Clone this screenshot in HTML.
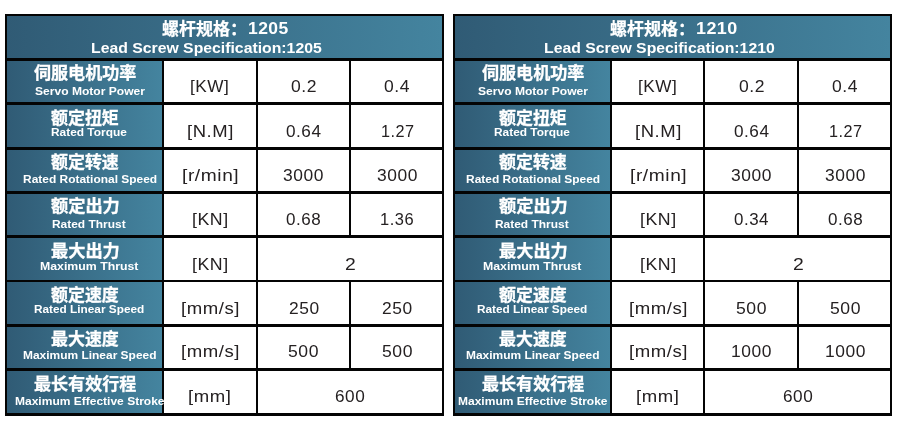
<!DOCTYPE html>
<html lang="zh"><head><meta charset="utf-8"><title>Lead Screw Specification</title>
<style>
html,body{margin:0;padding:0;background:#fff;}
body{width:900px;height:432px;position:relative;overflow:hidden;font-family:"Liberation Sans","Noto Sans CJK SC",sans-serif;}
.t{position:absolute;top:0;left:0;width:448px;height:432px;}
.bg{position:absolute;left:5px;top:14px;width:439.2px;height:401.8px;background:#040404;}
.c{position:absolute;background:#fff;}
.g{position:absolute;background:linear-gradient(90deg,#305b75 0%,#44849f 100%);}
.x{position:absolute;white-space:nowrap;transform-origin:0 0;line-height:1;}
.zh{color:#fff;font-weight:700;font-size:16.9px;font-family:"Liberation Sans","Noto Sans CJK SC",sans-serif;-webkit-text-stroke:0.3px #fff;}
.en{color:#fff;font-weight:700;font-size:11.7px;}
.h1{color:#fff;font-weight:700;font-size:17.2px;font-family:"Liberation Sans","Noto Sans CJK SC",sans-serif;-webkit-text-stroke:0.25px #fff;}
.h1d{color:#fff;font-weight:700;font-size:17px;letter-spacing:.4px;}
.h2{color:#fff;font-weight:700;font-size:15.1px;}
.d{color:#252122;font-size:16.4px;letter-spacing:.5px;}
</style></head><body>
<div class="t" style="left:0px"><div class="bg"></div>
<div class="g" style="left:7.30px;top:16.30px;width:435.00px;height:41.45px"></div>
<div class="g" style="left:7.30px;top:60.70px;width:154.70px;height:41.30px"></div>
<div class="c" style="left:164.00px;top:60.70px;width:91.75px;height:41.30px"></div>
<div class="c" style="left:257.75px;top:60.70px;width:91.35px;height:41.30px"></div>
<div class="c" style="left:351.10px;top:60.70px;width:91.20px;height:41.30px"></div>
<div class="g" style="left:7.30px;top:104.80px;width:154.70px;height:42.10px"></div>
<div class="c" style="left:164.00px;top:104.80px;width:91.75px;height:42.10px"></div>
<div class="c" style="left:257.75px;top:104.80px;width:91.35px;height:42.10px"></div>
<div class="c" style="left:351.10px;top:104.80px;width:91.20px;height:42.10px"></div>
<div class="g" style="left:7.30px;top:149.70px;width:154.70px;height:41.20px"></div>
<div class="c" style="left:164.00px;top:149.70px;width:91.75px;height:41.20px"></div>
<div class="c" style="left:257.75px;top:149.70px;width:91.35px;height:41.20px"></div>
<div class="c" style="left:351.10px;top:149.70px;width:91.20px;height:41.20px"></div>
<div class="g" style="left:7.30px;top:193.70px;width:154.70px;height:41.60px"></div>
<div class="c" style="left:164.00px;top:193.70px;width:91.75px;height:41.60px"></div>
<div class="c" style="left:257.75px;top:193.70px;width:91.35px;height:41.60px"></div>
<div class="c" style="left:351.10px;top:193.70px;width:91.20px;height:41.60px"></div>
<div class="g" style="left:7.30px;top:238.10px;width:154.70px;height:41.45px"></div>
<div class="c" style="left:164.00px;top:238.10px;width:91.75px;height:41.45px"></div>
<div class="c" style="left:257.75px;top:238.10px;width:184.55px;height:41.45px"></div>
<div class="g" style="left:7.30px;top:282.35px;width:154.70px;height:41.35px"></div>
<div class="c" style="left:164.00px;top:282.35px;width:91.75px;height:41.35px"></div>
<div class="c" style="left:257.75px;top:282.35px;width:91.35px;height:41.35px"></div>
<div class="c" style="left:351.10px;top:282.35px;width:91.20px;height:41.35px"></div>
<div class="g" style="left:7.30px;top:326.50px;width:154.70px;height:41.50px"></div>
<div class="c" style="left:164.00px;top:326.50px;width:91.75px;height:41.50px"></div>
<div class="c" style="left:257.75px;top:326.50px;width:91.35px;height:41.50px"></div>
<div class="c" style="left:351.10px;top:326.50px;width:91.20px;height:41.50px"></div>
<div class="g" style="left:7.30px;top:370.80px;width:154.70px;height:42.10px"></div>
<div class="c" style="left:164.00px;top:370.80px;width:91.75px;height:42.10px"></div>
<div class="c" style="left:257.75px;top:370.80px;width:184.55px;height:42.10px"></div>
</div>
<div class="t" style="left:448px"><div class="bg"></div>
<div class="g" style="left:7.30px;top:16.30px;width:435.00px;height:41.45px"></div>
<div class="g" style="left:7.30px;top:60.70px;width:154.55px;height:41.30px"></div>
<div class="c" style="left:163.85px;top:60.70px;width:91.55px;height:41.30px"></div>
<div class="c" style="left:257.40px;top:60.70px;width:91.50px;height:41.30px"></div>
<div class="c" style="left:350.90px;top:60.70px;width:91.40px;height:41.30px"></div>
<div class="g" style="left:7.30px;top:104.80px;width:154.55px;height:42.10px"></div>
<div class="c" style="left:163.85px;top:104.80px;width:91.55px;height:42.10px"></div>
<div class="c" style="left:257.40px;top:104.80px;width:91.50px;height:42.10px"></div>
<div class="c" style="left:350.90px;top:104.80px;width:91.40px;height:42.10px"></div>
<div class="g" style="left:7.30px;top:149.70px;width:154.55px;height:41.20px"></div>
<div class="c" style="left:163.85px;top:149.70px;width:91.55px;height:41.20px"></div>
<div class="c" style="left:257.40px;top:149.70px;width:91.50px;height:41.20px"></div>
<div class="c" style="left:350.90px;top:149.70px;width:91.40px;height:41.20px"></div>
<div class="g" style="left:7.30px;top:193.70px;width:154.55px;height:41.60px"></div>
<div class="c" style="left:163.85px;top:193.70px;width:91.55px;height:41.60px"></div>
<div class="c" style="left:257.40px;top:193.70px;width:91.50px;height:41.60px"></div>
<div class="c" style="left:350.90px;top:193.70px;width:91.40px;height:41.60px"></div>
<div class="g" style="left:7.30px;top:238.10px;width:154.55px;height:41.45px"></div>
<div class="c" style="left:163.85px;top:238.10px;width:91.55px;height:41.45px"></div>
<div class="c" style="left:257.40px;top:238.10px;width:184.90px;height:41.45px"></div>
<div class="g" style="left:7.30px;top:282.35px;width:154.55px;height:41.35px"></div>
<div class="c" style="left:163.85px;top:282.35px;width:91.55px;height:41.35px"></div>
<div class="c" style="left:257.40px;top:282.35px;width:91.50px;height:41.35px"></div>
<div class="c" style="left:350.90px;top:282.35px;width:91.40px;height:41.35px"></div>
<div class="g" style="left:7.30px;top:326.50px;width:154.55px;height:41.50px"></div>
<div class="c" style="left:163.85px;top:326.50px;width:91.55px;height:41.50px"></div>
<div class="c" style="left:257.40px;top:326.50px;width:91.50px;height:41.50px"></div>
<div class="c" style="left:350.90px;top:326.50px;width:91.40px;height:41.50px"></div>
<div class="g" style="left:7.30px;top:370.80px;width:154.55px;height:42.10px"></div>
<div class="c" style="left:163.85px;top:370.80px;width:91.55px;height:42.10px"></div>
<div class="c" style="left:257.40px;top:370.80px;width:184.90px;height:42.10px"></div>
</div>
<div class="x h1" id="t0h1" style="left:162.00px;top:20.75px;transform:scaleX(0.9883)">螺杆规格：</div>
<div class="x h1d" id="t0h1d" style="left:247.96px;top:20.00px;transform:scaleX(1.0292)">1205</div>
<div class="x h2" id="t0h2" style="left:90.98px;top:40.00px;transform:scaleX(1.0457)">Lead Screw Specification:1205</div>
<div class="x d" id="t0r1v0" style="left:291.45px;top:77.60px;transform:scaleX(1.0700)">0.2</div>
<div class="x d" id="t0r1v1" style="left:384.43px;top:77.60px;transform:scaleX(1.0681)">0.4</div>
<div class="x d" id="t0r1u" style="left:190.43px;top:77.60px;transform:scaleX(1.0494)">[KW]</div>
<div class="x zh" id="t0r1zh" style="left:34.01px;top:65.50px;transform:scaleX(1.0093)">伺服电机功率</div>
<div class="x en" id="t0r1en" style="left:34.99px;top:84.80px;transform:scaleX(1.0330)">Servo Motor Power</div>
<div class="x d" id="t0r2v0" style="left:286.46px;top:123.40px;transform:scaleX(1.0477)">0.64</div>
<div class="x d" id="t0r2v1" style="left:380.50px;top:123.40px;transform:scaleX(0.9914)">1.27</div>
<div class="x d" id="t0r2u" style="left:187.42px;top:123.40px;transform:scaleX(1.1259)">[N.M]</div>
<div class="x zh" id="t0r2zh" style="left:51.00px;top:110.50px;transform:scaleX(1.0031)">额定扭矩</div>
<div class="x en" id="t0r2en" style="left:50.96px;top:126.40px;transform:scaleX(1.0179)">Rated Torque</div>
<div class="x d" id="t0r3v0" style="left:283.46px;top:166.60px;transform:scaleX(1.0630)">3000</div>
<div class="x d" id="t0r3v1" style="left:377.45px;top:166.60px;transform:scaleX(1.0630)">3000</div>
<div class="x d" id="t0r3u" style="left:182.39px;top:166.60px;transform:scaleX(1.1682)">[r/min]</div>
<div class="x zh" id="t0r3zh" style="left:51.00px;top:154.50px;transform:scaleX(1.0031)">额定转速</div>
<div class="x en" id="t0r3en" style="left:23.00px;top:173.00px;transform:scaleX(1.0226)">Rated Rotational Speed</div>
<div class="x d" id="t0r4v0" style="left:286.00px;top:210.60px;transform:scaleX(1.0384)">0.68</div>
<div class="x d" id="t0r4v1" style="left:380.47px;top:210.60px;transform:scaleX(1.0045)">1.36</div>
<div class="x d" id="t0r4u" style="left:192.41px;top:210.60px;transform:scaleX(1.0819)">[KN]</div>
<div class="x zh" id="t0r4zh" style="left:50.99px;top:198.50px;transform:scaleX(1.0183)">额定出力</div>
<div class="x en" id="t0r4en" style="left:51.98px;top:217.60px;transform:scaleX(1.0212)">Rated Thrust</div>
<div class="x d" id="t0r5v0" style="left:345.24px;top:255.80px;transform:scaleX(1.1807)">2</div>
<div class="x d" id="t0r5u" style="left:192.41px;top:255.80px;transform:scaleX(1.0819)">[KN]</div>
<div class="x zh" id="t0r5zh" style="left:50.99px;top:243.50px;transform:scaleX(1.0183)">最大出力</div>
<div class="x en" id="t0r5en" style="left:40.00px;top:259.60px;transform:scaleX(1.0520)">Maximum Thrust</div>
<div class="x d" id="t0r6v0" style="left:289.00px;top:299.80px;transform:scaleX(1.0604)">250</div>
<div class="x d" id="t0r6v1" style="left:381.92px;top:299.80px;transform:scaleX(1.0604)">250</div>
<div class="x d" id="t0r6u" style="left:180.87px;top:299.80px;transform:scaleX(1.1324)">[mm/s]</div>
<div class="x zh" id="t0r6zh" style="left:51.00px;top:288.00px;transform:scaleX(1.0031)">额定速度</div>
<div class="x en" id="t0r6en" style="left:33.98px;top:303.00px;transform:scaleX(1.0104)">Rated Linear Speed</div>
<div class="x d" id="t0r7v0" style="left:287.95px;top:343.00px;transform:scaleX(1.0741)">500</div>
<div class="x d" id="t0r7v1" style="left:381.93px;top:343.00px;transform:scaleX(1.0741)">500</div>
<div class="x d" id="t0r7u" style="left:180.87px;top:343.00px;transform:scaleX(1.1324)">[mm/s]</div>
<div class="x zh" id="t0r7zh" style="left:51.00px;top:331.50px;transform:scaleX(1.0031)">最大速度</div>
<div class="x en" id="t0r7en" style="left:23.00px;top:349.00px;transform:scaleX(1.0225)">Maximum Linear Speed</div>
<div class="x d" id="t0r8v0" style="left:335.48px;top:388.40px;transform:scaleX(1.0492)">600</div>
<div class="x d" id="t0r8u" style="left:188.33px;top:388.40px;transform:scaleX(1.1313)">[mm]</div>
<div class="x zh" id="t0r8zh" style="left:34.00px;top:376.50px;transform:scaleX(1.0091)">最长有效行程</div>
<div class="x en" id="t0r8en" style="left:14.98px;top:395.00px;transform:scaleX(1.0276)">Maximum Effective Stroke</div>
<div class="x h1" id="t1h1" style="left:610.00px;top:20.75px;transform:scaleX(0.9883)">螺杆规格：</div>
<div class="x h1d" id="t1h1d" style="left:695.94px;top:20.00px;transform:scaleX(1.0547)">1210</div>
<div class="x h2" id="t1h2" style="left:543.95px;top:40.00px;transform:scaleX(1.0458)">Lead Screw Specification:1210</div>
<div class="x d" id="t1r1v0" style="left:739.44px;top:77.60px;transform:scaleX(1.0700)">0.2</div>
<div class="x d" id="t1r1v1" style="left:832.43px;top:77.60px;transform:scaleX(1.0681)">0.4</div>
<div class="x d" id="t1r1u" style="left:638.43px;top:77.60px;transform:scaleX(1.0493)">[KW]</div>
<div class="x zh" id="t1r1zh" style="left:482.01px;top:65.50px;transform:scaleX(1.0093)">伺服电机功率</div>
<div class="x en" id="t1r1en" style="left:477.99px;top:84.80px;transform:scaleX(1.0330)">Servo Motor Power</div>
<div class="x d" id="t1r2v0" style="left:734.46px;top:123.40px;transform:scaleX(1.0477)">0.64</div>
<div class="x d" id="t1r2v1" style="left:828.50px;top:123.40px;transform:scaleX(0.9914)">1.27</div>
<div class="x d" id="t1r2u" style="left:635.42px;top:123.40px;transform:scaleX(1.1259)">[N.M]</div>
<div class="x zh" id="t1r2zh" style="left:499.00px;top:110.50px;transform:scaleX(1.0031)">额定扭矩</div>
<div class="x en" id="t1r2en" style="left:493.96px;top:126.40px;transform:scaleX(1.0179)">Rated Torque</div>
<div class="x d" id="t1r3v0" style="left:731.46px;top:166.60px;transform:scaleX(1.0630)">3000</div>
<div class="x d" id="t1r3v1" style="left:825.45px;top:166.60px;transform:scaleX(1.0630)">3000</div>
<div class="x d" id="t1r3u" style="left:630.39px;top:166.60px;transform:scaleX(1.1682)">[r/min]</div>
<div class="x zh" id="t1r3zh" style="left:499.00px;top:154.50px;transform:scaleX(1.0031)">额定转速</div>
<div class="x en" id="t1r3en" style="left:466.00px;top:173.00px;transform:scaleX(1.0226)">Rated Rotational Speed</div>
<div class="x d" id="t1r4v0" style="left:733.98px;top:210.60px;transform:scaleX(1.0312)">0.34</div>
<div class="x d" id="t1r4v1" style="left:827.96px;top:210.60px;transform:scaleX(1.0384)">0.68</div>
<div class="x d" id="t1r4u" style="left:640.41px;top:210.60px;transform:scaleX(1.0819)">[KN]</div>
<div class="x zh" id="t1r4zh" style="left:498.99px;top:198.50px;transform:scaleX(1.0183)">额定出力</div>
<div class="x en" id="t1r4en" style="left:494.98px;top:217.60px;transform:scaleX(1.0212)">Rated Thrust</div>
<div class="x d" id="t1r5v0" style="left:793.24px;top:255.80px;transform:scaleX(1.1807)">2</div>
<div class="x d" id="t1r5u" style="left:640.41px;top:255.80px;transform:scaleX(1.0819)">[KN]</div>
<div class="x zh" id="t1r5zh" style="left:498.99px;top:243.50px;transform:scaleX(1.0183)">最大出力</div>
<div class="x en" id="t1r5en" style="left:483.00px;top:259.60px;transform:scaleX(1.0520)">Maximum Thrust</div>
<div class="x d" id="t1r6v0" style="left:735.95px;top:299.80px;transform:scaleX(1.0741)">500</div>
<div class="x d" id="t1r6v1" style="left:829.93px;top:299.80px;transform:scaleX(1.0741)">500</div>
<div class="x d" id="t1r6u" style="left:628.87px;top:299.80px;transform:scaleX(1.1324)">[mm/s]</div>
<div class="x zh" id="t1r6zh" style="left:499.00px;top:288.00px;transform:scaleX(1.0031)">额定速度</div>
<div class="x en" id="t1r6en" style="left:476.98px;top:303.00px;transform:scaleX(1.0104)">Rated Linear Speed</div>
<div class="x d" id="t1r7v0" style="left:731.40px;top:343.00px;transform:scaleX(1.0645)">1000</div>
<div class="x d" id="t1r7v1" style="left:825.45px;top:343.00px;transform:scaleX(1.0630)">1000</div>
<div class="x d" id="t1r7u" style="left:628.87px;top:343.00px;transform:scaleX(1.1324)">[mm/s]</div>
<div class="x zh" id="t1r7zh" style="left:499.00px;top:331.50px;transform:scaleX(1.0031)">最大速度</div>
<div class="x en" id="t1r7en" style="left:466.00px;top:349.00px;transform:scaleX(1.0225)">Maximum Linear Speed</div>
<div class="x d" id="t1r8v0" style="left:783.48px;top:388.40px;transform:scaleX(1.0492)">600</div>
<div class="x d" id="t1r8u" style="left:636.33px;top:388.40px;transform:scaleX(1.1313)">[mm]</div>
<div class="x zh" id="t1r8zh" style="left:482.00px;top:376.50px;transform:scaleX(1.0091)">最长有效行程</div>
<div class="x en" id="t1r8en" style="left:457.98px;top:395.00px;transform:scaleX(1.0276)">Maximum Effective Stroke</div>
</body></html>
